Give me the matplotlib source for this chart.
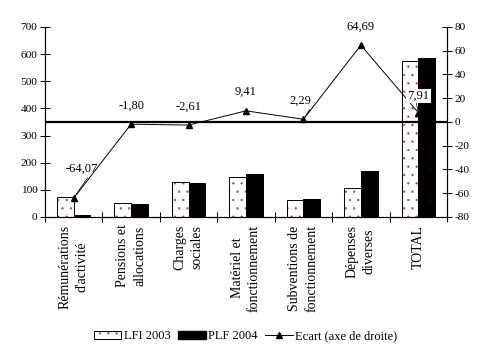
import matplotlib
matplotlib.use("Agg")
import matplotlib.pyplot as plt
import numpy as np
from matplotlib.lines import Line2D
from matplotlib.patches import Patch

categories = ["Rémunérations\nd'activité", "Pensions et\nallocations", "Charges\nsociales",
              "Matériel et\nfonctionnement", "Subventions de\nfonctionnement", "Dépenses\ndiverses", "TOTAL"]
lfi_2003 = [73.6, 51.5, 128.7, 147.0, 62.5, 106.7, 573.7]
plf_2004 = [7.4, 47.8, 126.3, 159.4, 66.2, 170.4, 584.8]
ecart = [-64.07, -1.80, -2.61, 9.41, 2.29, 64.69, 7.91]

plt.rcParams['font.family'] = ['Liberation Serif', 'DejaVu Serif']
plt.rcParams['axes.unicode_minus'] = False
plt.rcParams['hatch.linewidth'] = 0.4
FS = 9

fig = plt.figure(figsize=(4.91, 3.54), dpi=100)
ax = fig.add_axes([45/491, 1-217/354, (447-45)/491, 190/354])
ax2 = ax.twinx()

x = np.arange(len(categories))
w = 0.29
pink = '#c0306a'
ax.bar(x - w/2, lfi_2003, w, color='white', edgecolor=pink, hatch='..', linewidth=0, zorder=2)
ax.bar(x - w/2, lfi_2003, w, color='none', edgecolor='black', linewidth=0.7, zorder=3)
ax.bar(x + w/2, plf_2004, w, color='black', edgecolor='black', linewidth=0.7, zorder=3)

ax.set_xlim(-0.5, len(categories) - 0.5)
ax.set_ylim(0, 700)
ax.set_yticks(np.arange(0, 701, 100))
ax2.set_ylim(-80, 80)
ax2.set_yticks(np.arange(-80, 81, 20))

ax.set_xticks(np.arange(-0.5, len(categories) + 0.5, 1))
ax.set_xticklabels([])
for i, c in enumerate(categories):
    ax.text(i, -0.04, c, transform=ax.get_xaxis_transform(), rotation=90, ha='center', va='top',
            multialignment='center', fontsize=10, linespacing=1.4)

for a in (ax, ax2):
    a.spines['top'].set_visible(False)
    a.tick_params(direction='inout', length=7, width=0.7, labelsize=8.2, pad=2)
for s in ('left', 'right', 'bottom'):
    ax2.spines[s].set_linewidth(0.8)
    ax.spines[s].set_linewidth(0.8)

ax2.axhline(0, color='black', lw=1.6, zorder=4)
ax2.plot(x, ecart, color='black', lw=0.7, marker='^', markersize=5, zorder=5)

offsets = [(5.5, 21), (0, 13.5), (0, 13), (0, 13.5), (-2, 13.5), (0, 13), (0, 12)]
relpos = [(0.75, 0), None, None, None, (1, 0), None, (0.4, 0)]
for i, (v, off, rp) in enumerate(zip(ecart, offsets, relpos)):
    kw = {}
    if rp is not None:
        kw['arrowprops'] = dict(arrowstyle='-', color='black', lw=0.5, shrinkA=0, shrinkB=2, relpos=rp)
    bbox = dict(facecolor='white', edgecolor='none', pad=1) if i == len(ecart) - 1 else None
    ax2.annotate(f"{v:.2f}".replace('.', ','), (x[i], v), xytext=off, textcoords='offset points',
                 ha='center', va='center', fontsize=FS, bbox=bbox, zorder=6, **kw)

h_lfi = (Patch(facecolor='white', edgecolor=pink, hatch='..', linewidth=0),
         Patch(facecolor='none', edgecolor='black', linewidth=0.7))
handles = [h_lfi,
           Patch(facecolor='black', edgecolor='black'),
           Line2D([], [], color='black', lw=0.7, marker='^', markersize=5)]
fig.legend(handles, ['LFI 2003', 'PLF 2004', 'Ecart (axe de droite)'], loc='center',
           bbox_to_anchor=(0.5, 1-336/354), ncol=3, frameon=False, fontsize=FS,
           handlelength=2.2, handleheight=0.6, handletextpad=0.2, columnspacing=0.6)

fig.savefig('out.png', dpi=100)
